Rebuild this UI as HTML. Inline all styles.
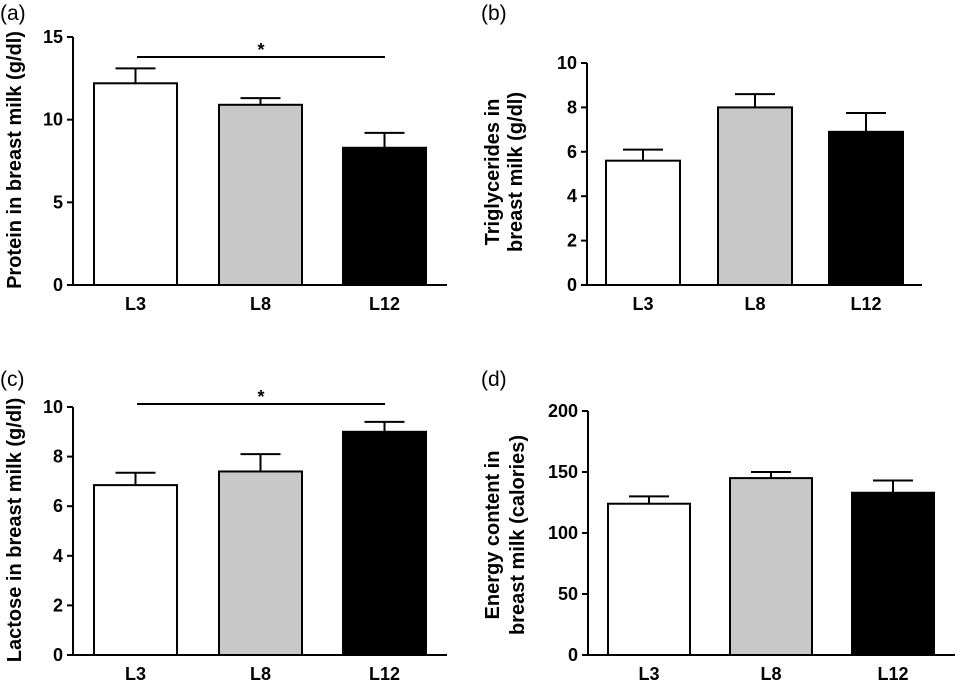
<!DOCTYPE html>
<html><head><meta charset="utf-8"><style>
html,body{margin:0;padding:0;background:#fff;}
svg{display:block;font-family:"Liberation Sans",Arial,sans-serif;}
</style></head><body>
<svg id="fig" width="957" height="682" viewBox="0 0 957 682"></svg>
<script>
const categories = ["L3","L8","L12"];
const protein = [12.2, 10.9, 8.3];
const proteinErr = [13.1, 11.3, 9.2];
const trig = [5.6, 8.0, 6.9];
const trigErr = [6.1, 8.6, 7.75];
const lactose = [6.85, 7.4, 9.0];
const lactoseErr = [7.35, 8.1, 9.4];
const energy = [124, 145, 133];
const energyErr = [130, 150, 143];
const ticksA = [0,5,10,15];
const ticksB = [0,2,4,6,8,10];
const ticksC = [0,2,4,6,8,10];
const ticksD = [0,50,100,150,200];
const fills = ["#ffffff","#c8c8c8","#000000"];

const NS = "http://www.w3.org/2000/svg";
const svg = document.getElementById('fig');
function mk(tag, attrs, parent, text){
  const e = document.createElementNS(NS, tag);
  for (const k in attrs) e.setAttribute(k, attrs[k]);
  if (text !== undefined) e.textContent = text;
  (parent||svg).appendChild(e);
  return e;
}
const TICK = {'font-size': 18, 'font-weight': 'bold'};
function panel(cfg){
  const g = mk('g', {});
  
  
  const y = v => cfg.y0 - v / cfg.max * (cfg.y0 - cfg.yTop);
  const pl = mk('text', {x: cfg.plx, y: cfg.ply, 'font-size': 21}, g, cfg.letter);
  
  
  categories.forEach((c, i) => {
    const x0 = cfg.bx[i], w = cfg.bw;
    const yv = y(cfg.vals[i]), ye = y(cfg.errs[i]);
    const cx = x0 + w/2;
    const er = mk('line', {x1: cx, x2: cx, y1: yv, y2: ye, stroke: '#000', 'stroke-width': 2}, g);
    
    
    const cap = mk('line', {x1: cx - 20, x2: cx + 20, y1: ye, y2: ye, stroke: '#000', 'stroke-width': 2}, g);
    
    
    const b = mk('rect', {x: x0, y: yv, width: w, height: cfg.y0 - yv, fill: fills[i], stroke: '#000', 'stroke-width': 2}, g);
    
    
    const lb = mk('text', Object.assign({x: cx, y: cfg.y0 + 25, 'text-anchor': 'middle'}, TICK), g, c);
    
    
  });
  const ya = mk('line', {x1: cfg.ax, x2: cfg.ax, y1: cfg.yTop, y2: cfg.y0, stroke: '#000', 'stroke-width': 2}, g);
  
  
  const xa = mk('line', {x1: cfg.ax - 6, x2: cfg.xEnd, y1: cfg.y0, y2: cfg.y0, stroke: '#000', 'stroke-width': 2}, g);
  
  
  cfg.ticks.forEach(t => {
    const ty = y(t);
    const tk = mk('line', {x1: cfg.ax - 6, x2: cfg.ax, y1: ty, y2: ty, stroke: '#000', 'stroke-width': 2}, g);
    
    
    const tl = mk('text', Object.assign({x: cfg.ax - 10, y: ty + 6, 'text-anchor': 'end'}, TICK), g, t);
    
    
  });
  cfg.titles.forEach((tt, k) => {
    const tx = cfg.titleX[k], tyc = cfg.titleY;
    const e = mk('text', {x: tx, y: tyc, 'font-size': 20, 'font-weight': 'bold', 'text-anchor': 'middle', transform: `rotate(-90 ${tx} ${tyc})`}, g, tt);
    
    
  });
  if (cfg.sig){
    const s = mk('line', {x1: cfg.sig.x1, x2: cfg.sig.x2, y1: cfg.sig.y, y2: cfg.sig.y, stroke: '#000', 'stroke-width': 2}, g);
    
    
    const st = mk('text', Object.assign({x: (cfg.sig.x1 + cfg.sig.x2)/2, y: cfg.sig.y - 1, 'text-anchor': 'middle'}, TICK), g, '*');
    
    
  }
}

panel({name:'panel-a-protein', letter:'(a)', plx:0, ply:20, vals:protein, errs:proteinErr, max:15, ticks:ticksA,
  ax:73, y0:285, yTop:37, xEnd:447, bx:[94,219,343], bw:83,
  titles:['Protein in breast milk (g/dl)'], titleX:[21], titleY:160, sig:{x1:137,x2:385,y:57}});
panel({name:'panel-b-triglycerides', letter:'(b)', plx:481, ply:20, vals:trig, errs:trigErr, max:10, ticks:ticksB,
  ax:587, y0:285, yTop:63, xEnd:922, bx:[606,718,829], bw:74,
  titles:['Triglycerides in','breast milk  (g/dl)'], titleX:[499,522], titleY:172});
panel({name:'panel-c-lactose', letter:'(c)', plx:0, ply:386, vals:lactose, errs:lactoseErr, max:10, ticks:ticksC,
  ax:73, y0:655, yTop:407, xEnd:447, bx:[94,219,343], bw:83,
  titles:['Lactose in breast milk (g/dl)'], titleX:[21], titleY:530, sig:{x1:137,x2:385,y:404}});
panel({name:'panel-d-energy', letter:'(d)', plx:481, ply:386, vals:energy, errs:energyErr, max:200, ticks:ticksD,
  ax:588, y0:655, yTop:411, xEnd:955, bx:[608,730,852], bw:82,
  titles:['Energy content in','breast milk (calories)'], titleX:[499,524], titleY:535});
</script>
</body></html>
